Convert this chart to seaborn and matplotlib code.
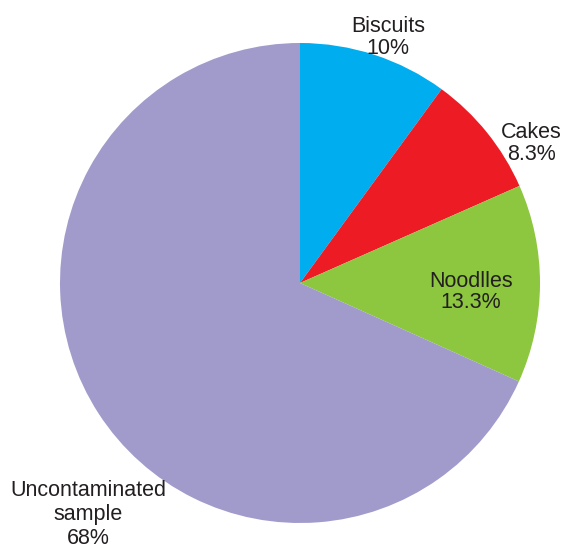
import matplotlib
matplotlib.use("Agg")
import matplotlib.pyplot as plt
import seaborn as sns

categories = ["Biscuits", "Cakes", "Noodlles", "Uncontaminated\nsample"]
percent_labels = ["10%", "8.3%", "13.3%", "68%"]
values = [10, 8.3, 13.3, 68]
colors = ["#00AEEF", "#ED1C24", "#8DC63F", "#A09BCB"]

sns.set_theme(style="white")
plt.rcParams["font.family"] = ["Liberation Sans", "DejaVu Sans"]

fig = plt.figure(figsize=(5.63, 5.5), dpi=100)
ax = fig.add_axes([0, 0, 1, 1])
palette = sns.color_palette(colors)

wedges, _ = ax.pie(values, colors=palette, startangle=90, counterclock=False,
                   center=(300, 267), radius=240, normalize=True,
                   wedgeprops=dict(linewidth=0))
ax.set_xlim(0, 563)
ax.set_ylim(0, 550)
ax.set_aspect("equal")
ax.axis("off")

# label anchors: (x centre, first baseline from bottom, line gap) in pixels
label_pos = [(388, 518, 21.5), (531, 412, 22), (471, 263, 21.5), (88, 54, 24)]
txt_color = "#231F20"
for cat, pct, (x, y, gap) in zip(categories, percent_labels, label_pos):
    lines = cat.split("\n") + [pct]
    for i, line in enumerate(lines):
        ax.text(x, y - i * gap, line, ha="center", va="baseline",
                fontsize=15.5, color=txt_color)

fig.savefig("out.png", dpi=100)
